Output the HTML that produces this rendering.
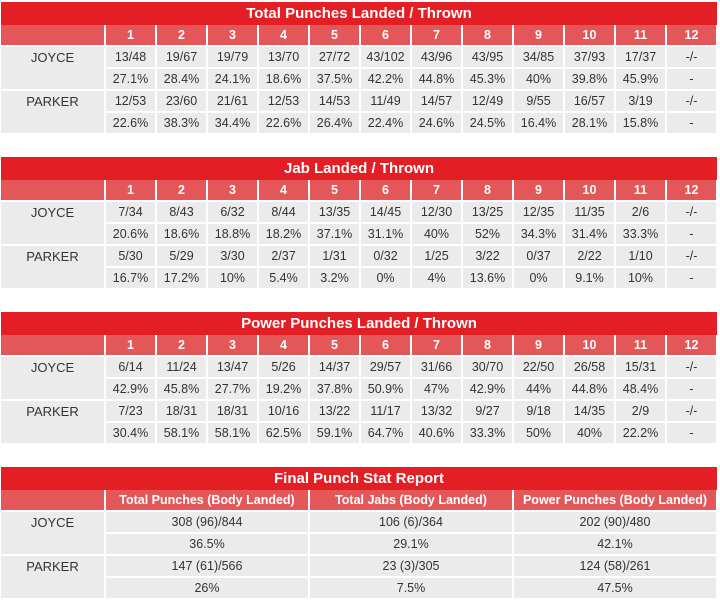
<!DOCTYPE html>
<html><head><meta charset="utf-8"><style>
body{margin:0;width:720px;height:604px;background:#fff;font-family:"Liberation Sans",Arial,sans-serif;position:relative;overflow:hidden}
.sec{position:absolute;left:1px;width:716px}
.title{height:23px;background:#e41e25;color:#fff;font-weight:bold;font-size:15px;text-align:center;line-height:24px}
table{border-collapse:collapse;table-layout:fixed;width:716px}
tr{height:22px}
tr.h{height:21px}
td{border:2px solid #fff;text-align:center;font-size:12.5px;color:#333;padding:0;background:#ebebeb}
tr.h td{background:#e45758;color:#fff;font-weight:bold;border-top:none}
td.name{vertical-align:top;padding-top:3px;font-size:13px}
td:first-child{border-left:none}
</style></head><body>
<script>
const rounds=['1','2','3','4','5','6','7','8','9','10','11','12'];
const sections=[
{t:'Total Punches Landed / Thrown',top:2,rows:[
['JOYCE',['13/48','19/67','19/79','13/70','27/72','43/102','43/96','43/95','34/85','37/93','17/37','-/-'],['27.1%','28.4%','24.1%','18.6%','37.5%','42.2%','44.8%','45.3%','40%','39.8%','45.9%','-']],
['PARKER',['12/53','23/60','21/61','12/53','14/53','11/49','14/57','12/49','9/55','16/57','3/19','-/-'],['22.6%','38.3%','34.4%','22.6%','26.4%','22.4%','24.6%','24.5%','16.4%','28.1%','15.8%','-']]]},
{t:'Jab Landed / Thrown',top:157,rows:[
['JOYCE',['7/34','8/43','6/32','8/44','13/35','14/45','12/30','13/25','12/35','11/35','2/6','-/-'],['20.6%','18.6%','18.8%','18.2%','37.1%','31.1%','40%','52%','34.3%','31.4%','33.3%','-']],
['PARKER',['5/30','5/29','3/30','2/37','1/31','0/32','1/25','3/22','0/37','2/22','1/10','-/-'],['16.7%','17.2%','10%','5.4%','3.2%','0%','4%','13.6%','0%','9.1%','10%','-']]]},
{t:'Power Punches Landed / Thrown',top:312,rows:[
['JOYCE',['6/14','11/24','13/47','5/26','14/37','29/57','31/66','30/70','22/50','26/58','15/31','-/-'],['42.9%','45.8%','27.7%','19.2%','37.8%','50.9%','47%','42.9%','44%','44.8%','48.4%','-']],
['PARKER',['7/23','18/31','18/31','10/16','13/22','11/17','13/32','9/27','9/18','14/35','2/9','-/-'],['30.4%','58.1%','58.1%','62.5%','59.1%','64.7%','40.6%','33.3%','50%','40%','22.2%','-']]]},
{t:'Final Punch Stat Report',top:467,cols:['Total Punches (Body Landed)','Total Jabs (Body Landed)','Power Punches (Body Landed)'],rows:[
['JOYCE',['308 (96)/844','106 (6)/364','202 (90)/480'],['36.5%','29.1%','42.1%']],
['PARKER',['147 (61)/566','23 (3)/305','124 (58)/261'],['26%','7.5%','47.5%']]]}
];
sections.forEach((s,si)=>{
  const sec=document.createElement('div');sec.className='sec';sec.style.top=s.top+'px';
  
  
  const tt=document.createElement('div');tt.className='title';tt.textContent=s.t;
  
  
  sec.appendChild(tt);
  const tb=document.createElement('table');
  const cols=s.cols||rounds;
  const cg=document.createElement('colgroup');
  const c0=document.createElement('col');c0.style.width='104px';cg.appendChild(c0);
  cols.forEach(()=>{const c=document.createElement('col');c.style.width=((716-104)/cols.length)+'px';cg.appendChild(c);});
  tb.appendChild(cg);
  const hr=document.createElement('tr');hr.className='h';
  
  
  hr.appendChild(document.createElement('td'));
  cols.forEach(c=>{const td=document.createElement('td');td.textContent=c;
    
    
    hr.appendChild(td);});
  tb.appendChild(hr);
  s.rows.forEach(r=>{
    [r[1],r[2]].forEach((vals,k)=>{
      const tr=document.createElement('tr');
      
      
      if(k===0){const n=document.createElement('td');n.className='name';n.rowSpan=2;n.textContent=r[0];
        
        
        tr.appendChild(n);}
      vals.forEach(v=>{const td=document.createElement('td');td.textContent=v;
        
        
        tr.appendChild(td);});
      tb.appendChild(tr);
    });
  });
  sec.appendChild(tb);
  document.body.appendChild(sec);
});
</script>
</body></html>
